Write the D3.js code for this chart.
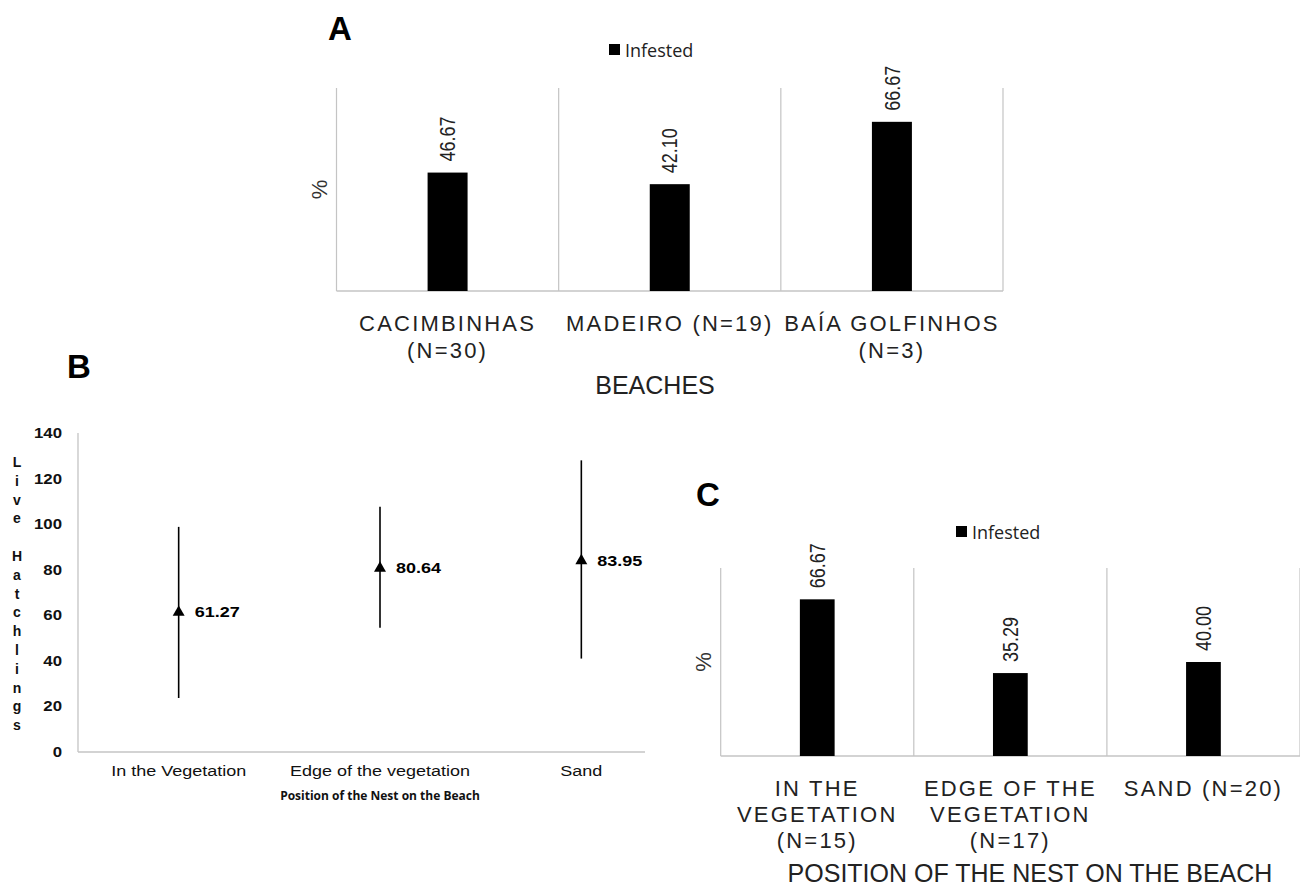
<!DOCTYPE html>
<html>
<head>
<meta charset="utf-8">
<script src="https://cdn.jsdelivr.net/npm/d3@7"></script>
<style>
  body { margin: 0; background: #fff; }
  svg { display: block; font-family: "Liberation Sans", Arial, sans-serif; }
</style>
</head>
<body>
<svg id="fig" width="1300" height="888"></svg>
<script>
// panel A - infested nests per beach
const beachLabels = [["CACIMBINHAS", "(N=30)"], ["MADEIRO (N=19)"], ["BAÍA GOLFINHOS", "(N=3)"]];
const beachInfested = [46.67, 42.10, 66.67];

// panel B - live hatchlings by nest position
const hatchCategories = ["In the Vegetation", "Edge of the vegetation", "Sand"];
const hatchMean = [61.27, 80.64, 83.95];
const hatchLow = [23.7, 54.5, 41.0];
const hatchHigh = [98.8, 107.6, 128.0];
const hatchTicks = [0, 20, 40, 60, 80, 100, 120, 140];

// panel C - infested nests by nest position
const positionLabels = [["IN THE", "VEGETATION", "(N=15)"], ["EDGE OF THE", "VEGETATION", "(N=17)"], ["SAND (N=20)"]];
const positionInfested = [66.67, 35.29, 40.00];

const svg = d3.select("#fig");
svg.append("rect").attr("width", 1300).attr("height", 888).attr("fill", "#fff");

const gridColor = "#c4c4c4";
const fmt = d3.format(".2f");

function panelLetter(txt, x, y) {
    svg.append("text")
        .attr("x", x).attr("y", y)
        .attr("font-size", 33).attr("font-weight", "bold")
        .text(txt);
}

// A and C are the same kind of Excel column chart
function drawBarPanel(p) {
    const g = svg.append("g");
    const keys = p.labels.map((d, i) => i);
    const x = d3.scaleBand().domain(keys).range([p.left, p.right]);
    const y = d3.scaleLinear().domain([0, 80]).range([p.bottom, p.top]);
    const barW = x.bandwidth() * 0.18;

    // vertical separators + frame
    const edges = keys.map(k => x(k)).concat([p.right]);
    g.selectAll(".sep").data(edges).enter().append("line")
        .attr("x1", d => d).attr("x2", d => d)
        .attr("y1", y(80)).attr("y2", y(0))
        .attr("stroke", gridColor).attr("stroke-width", 1.2);
    g.append("line")
        .attr("x1", p.left).attr("x2", p.right)
        .attr("y1", y(0)).attr("y2", y(0))
        .attr("stroke", gridColor).attr("stroke-width", 1.5);

    g.selectAll(".bar").data(p.values).enter().append("rect")
        .attr("x", (d, i) => x(i) + x.bandwidth() / 2 - barW / 2)
        .attr("y", d => y(d))
        .attr("width", barW)
        .attr("height", d => y(0) - y(d))
        .attr("fill", "#000");

    g.selectAll(".val").data(p.values).enter().append("text")
        .attr("transform", (d, i) => `translate(${x(i) + x.bandwidth() / 2},${y(d) - 11}) rotate(-90) scale(1,1.2)`)
        .attr("dominant-baseline", "central")
        .attr("font-size", 18)
        .attr("fill", "#222")
        .text(d => fmt(d));

    // category labels, wrapped like Excel did
    p.labels.forEach((lines, i) => {
        const t = g.append("text")
            .attr("text-anchor", "middle")
            .attr("font-size", 22)
            .attr("letter-spacing", 2.2)
            .attr("fill", "#222");
        lines.forEach((ln, j) => {
            t.append("tspan")
                .attr("x", x(i) + x.bandwidth() / 2)
                .attr("y", p.labelY + j * p.lineH)
                .text(ln);
        });
    });

    g.append("text")
        .attr("transform", `translate(${p.left - 17},${(y(0) + y(80)) / 2}) rotate(-90)`)
        .attr("text-anchor", "middle")
        .attr("dominant-baseline", "central")
        .attr("font-size", 22)
        .attr("fill", "#333")
        .text("%");

    g.append("text")
        .attr("x", p.titleX).attr("y", p.titleY)
        .attr("text-anchor", "middle")
        .attr("font-size", 25)
        .attr("fill", "#222")
        .text(p.title);

    // legend
    g.append("rect")
        .attr("x", p.legX).attr("y", p.legY - 6)
        .attr("width", 11).attr("height", 11)
        .attr("fill", "#000");
    g.append("text")
        .attr("x", p.legX + 16).attr("y", p.legY)
        .attr("dominant-baseline", "central")
        .attr("font-family", "'Open Sans', sans-serif")
        .attr("font-size", 18)
        .attr("fill", "#222")
        .text("Infested");
}

// ---------- A ----------
panelLetter("A", 328, 40);
drawBarPanel({
    labels: beachLabels, values: beachInfested,
    left: 336.5, right: 1003, top: 88, bottom: 291,
    labelY: 331, lineH: 26.5,
    title: "BEACHES", titleX: 655, titleY: 394,
    legX: 609, legY: 50
});

// ---------- C ----------
panelLetter("C", 696, 506);
drawBarPanel({
    labels: positionLabels, values: positionInfested,
    left: 720.7, right: 1300, top: 568, bottom: 756,
    labelY: 796, lineH: 26,
    title: "POSITION OF THE NEST ON THE BEACH", titleX: 1030, titleY: 882,
    legX: 956, legY: 532
});

// ---------- B ----------
panelLetter("B", 67, 378);
const gB = svg.append("g");
const bLeft = 78, bAxisEnd = 645;
const xB = d3.scaleBand().domain(hatchCategories).range([bLeft, 682]);
const yB = d3.scaleLinear().domain([0, 140]).range([752, 433]);
const sx = 1.2; // the original figure is stretched sideways

gB.append("line")
    .attr("x1", bLeft).attr("x2", bLeft)
    .attr("y1", yB(140)).attr("y2", yB(0))
    .attr("stroke", gridColor).attr("stroke-width", 1.3);
gB.append("line")
    .attr("x1", bLeft).attr("x2", bAxisEnd)
    .attr("y1", yB(0)).attr("y2", yB(0))
    .attr("stroke", gridColor).attr("stroke-width", 1.3);

gB.selectAll(".tick").data(hatchTicks).enter().append("text")
    .attr("transform", d => `translate(62,${yB(d)}) scale(${sx},1)`)
    .attr("text-anchor", "end")
    .attr("dominant-baseline", "central")
    .attr("font-size", 14).attr("font-weight", "bold")
    .attr("fill", "#111")
    .text(d => d);

const cx = c => xB(c) + xB.bandwidth() / 2;

gB.selectAll(".err").data(hatchCategories).enter().append("line")
    .attr("x1", cx).attr("x2", cx)
    .attr("y1", (d, i) => yB(hatchHigh[i]))
    .attr("y2", (d, i) => yB(hatchLow[i]))
    .attr("stroke", "#000").attr("stroke-width", 1.6);

gB.selectAll(".pt").data(hatchCategories).enter().append("path")
    .attr("d", d3.symbol().type(d3.symbolTriangle).size(62))
    .attr("transform", (d, i) => `translate(${cx(d)},${yB(hatchMean[i])})`)
    .attr("fill", "#000");

gB.selectAll(".ptlab").data(hatchCategories).enter().append("text")
    .attr("transform", (d, i) => `translate(${cx(d) + 16},${yB(hatchMean[i])}) scale(${sx},1)`)
    .attr("dominant-baseline", "central")
    .attr("font-size", 15).attr("font-weight", "bold")
    .text((d, i) => fmt(hatchMean[i]));

gB.selectAll(".cat").data(hatchCategories).enter().append("text")
    .attr("transform", d => `translate(${cx(d)},776) scale(${sx},1)`)
    .attr("text-anchor", "middle")
    .attr("font-size", 15)
    .attr("fill", "#111")
    .text(d => d);

gB.append("text")
    .attr("x", 380).attr("y", 800)
    .attr("text-anchor", "middle")
    .attr("font-family", "'Open Sans', sans-serif")
    .attr("font-size", 12).attr("font-weight", "bold")
    .attr("fill", "#111")
    .text("Position of the Nest on the Beach");

// stacked y title, one letter per line
const yTitle = "Live Hatchlings";
const yt = gB.append("text")
    .attr("text-anchor", "middle")
    .attr("font-size", 14).attr("font-weight", "bold")
    .attr("fill", "#111");
yTitle.split("").forEach((ch, i) => {
    yt.append("tspan")
        .attr("x", 17)
        .attr("y", 467 + i * 18.8)
        .text(ch === " " ? "\u00a0" : ch);
});
</script>
</body>
</html>
